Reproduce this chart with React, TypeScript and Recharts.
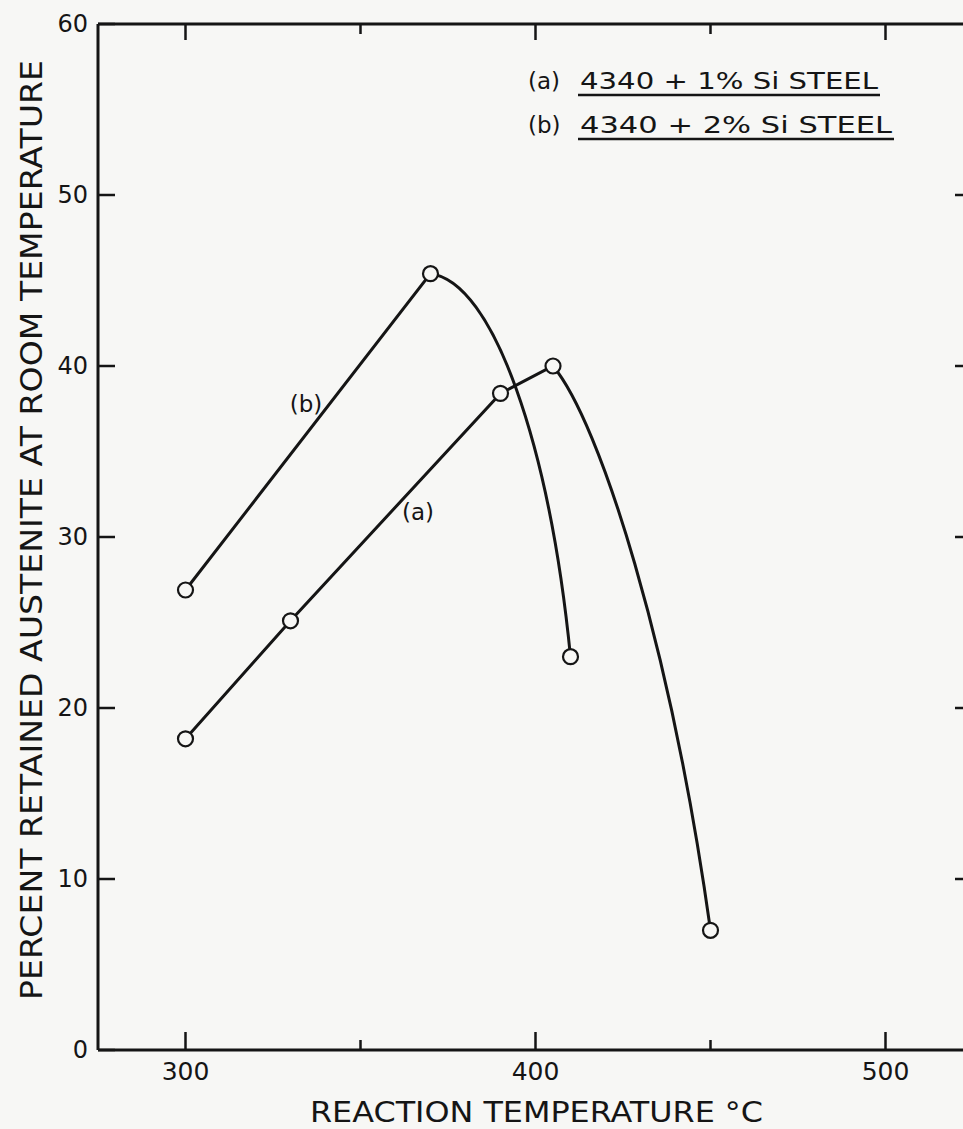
import React from 'react';
import { LineChart, Line, XAxis, YAxis } from 'recharts';

// ---- data ----
const tempA = [300, 330, 390, 405, 450];
const retainedA = [18.2, 25.1, 38.4, 40.0, 7.0];
const tempB = [300, 370, 410];
const retainedB = [26.9, 45.4, 23.0];

const xTicks = [300, 350, 400, 450, 500];
const xLabelTicks = [300, 400, 500];
const yTicks = [0, 10, 20, 30, 40, 50, 60];

const legendA = '4340 + 1% Si STEEL';
const legendB = '4340 + 2% Si STEEL';

const seriesA = tempA.map((t, i) => ({ temp: t, a: retainedA[i] }));
const seriesB = tempB.map((t, i) => ({ temp: t, b: retainedB[i] }));

const FONT = "'DejaVu Sans', 'Noto Sans', sans-serif";
const INK = '#151515';
const BG = '#f7f7f5';

// hand-drawn style curve: straight on rising segments, bent french-curve on falling ones
function makeCurve(c1x: number, c1y: number, c2x: number, c2y: number) {
  return (context: any) => {
    let pts: number[][] = [];
    return {
      areaStart() {},
      areaEnd() {},
      lineStart() {
        pts = [];
      },
      point(x: number, y: number) {
        pts.push([+x, +y]);
      },
      lineEnd() {
        if (!pts.length) return;
        context.moveTo(pts[0][0], pts[0][1]);
        for (let i = 1; i < pts.length; i++) {
          const [x0, y0] = pts[i - 1];
          const [x1, y1] = pts[i];
          if (y1 <= y0) {
            context.lineTo(x1, y1);
          } else {
            const dx = x1 - x0;
            const dy = y1 - y0;
            context.bezierCurveTo(x0 + c1x * dx, y0 + c1y * dy, x0 + c2x * dx, y0 + c2y * dy, x1, y1);
          }
        }
      },
    };
  };
}

const curveA = makeCurve(0.3, 0.1, 0.75, 0.5);
const curveB = makeCurve(0.45, 0.02, 0.85, 0.45);

function BottomTick(props: any) {
  const { x, y, payload } = props;
  const major = xLabelTicks.includes(payload.value);
  return (
    <g>
      <line x1={x} y1={y} x2={x} y2={y - (major ? 18 : 10)} stroke={INK} strokeWidth={2.5} />
      {major && (
        <text x={x} y={y + 21} textAnchor="middle" dominantBaseline="central" fontSize={25} fontFamily={FONT} fill={INK}>
          {payload.value}
        </text>
      )}
    </g>
  );
}

function TopTick(props: any) {
  const { x, y, payload } = props;
  const major = xLabelTicks.includes(payload.value);
  return <line x1={x} y1={y} x2={x} y2={y + (major ? 16 : 10)} stroke={INK} strokeWidth={2.5} />;
}

function LeftTick(props: any) {
  const { x, y, payload } = props;
  return (
    <g>
      <line x1={x} y1={y} x2={x + 17} y2={y} stroke={INK} strokeWidth={2.5} />
      <text x={x - 10} y={y} textAnchor="end" dominantBaseline="central" fontSize={24} fontFamily={FONT} fill={INK}>
        {payload.value}
      </text>
    </g>
  );
}

function RightTick(props: any) {
  const { x, y } = props;
  return <line x1={x} y1={y} x2={x - 18} y2={y} stroke={INK} strokeWidth={2.5} />;
}

const dotStyle = { r: 7.5, fill: BG, stroke: INK, strokeWidth: 2.2 };

export default function App() {
  return (
    <div
      style={{
        position: 'absolute',
        left: 0,
        top: 0,
        width: 963,
        height: 1129,
        overflow: 'hidden',
        background: BG,
      }}
    >
      <LineChart width={1000} height={1129} margin={{ top: 14, right: 17, bottom: 19, left: 38 }}>
        <XAxis
          xAxisId="bottom"
          type="number"
          dataKey="temp"
          domain={[275, 525]}
          ticks={xTicks}
          interval={0}
          orientation="bottom"
          height={60}
          tickSize={0}
          tickMargin={0}
          tickLine={false}
          axisLine={{ stroke: INK, strokeWidth: 3 }}
          tick={(p: any) => <BottomTick {...p} />}
          allowDataOverflow
        />
        <XAxis
          xAxisId="top"
          type="number"
          dataKey="temp"
          domain={[275, 525]}
          ticks={xTicks}
          interval={0}
          orientation="top"
          height={10}
          tickSize={0}
          tickMargin={0}
          tickLine={false}
          axisLine={{ stroke: INK, strokeWidth: 3 }}
          tick={(p: any) => <TopTick {...p} />}
          allowDataOverflow
        />
        <YAxis
          yAxisId="left"
          type="number"
          domain={[0, 60]}
          ticks={yTicks}
          interval={0}
          width={60}
          tickSize={0}
          tickMargin={0}
          tickLine={false}
          axisLine={{ stroke: INK, strokeWidth: 3 }}
          tick={(p: any) => <LeftTick {...p} />}
          allowDataOverflow
        />
        <YAxis
          yAxisId="right"
          orientation="right"
          type="number"
          domain={[0, 60]}
          ticks={yTicks.slice(1, -1)}
          interval={0}
          width={10}
          tickSize={0}
          tickMargin={0}
          tickLine={false}
          axisLine={{ stroke: INK, strokeWidth: 3 }}
          tick={(p: any) => <RightTick {...p} />}
          allowDataOverflow
        />
        <Line
          data={seriesA}
          xAxisId="bottom"
          yAxisId="left"
          dataKey="a"
          type={curveA as any}
          stroke={INK}
          strokeWidth={3}
          dot={dotStyle}
          activeDot={false}
          isAnimationActive={false}
        />
        <Line
          data={seriesB}
          xAxisId="bottom"
          yAxisId="left"
          dataKey="b"
          type={curveB as any}
          stroke={INK}
          strokeWidth={3}
          dot={dotStyle}
          activeDot={false}
          isAnimationActive={false}
        />
      </LineChart>
      <svg
        width={963}
        height={1129}
        style={{ position: 'absolute', left: 0, top: 0, pointerEvents: 'none' }}
        fontFamily={FONT}
        fill={INK}
      >
        <text
          transform="translate(31,530) rotate(-90)"
          textAnchor="middle"
          dominantBaseline="central"
          fontSize={30}
          textLength={940}
          lengthAdjust="spacingAndGlyphs"
        >
          PERCENT RETAINED AUSTENITE AT ROOM TEMPERATURE
        </text>
        <text x={310} y={1122} fontSize={29} textLength={453} lengthAdjust="spacingAndGlyphs">
          REACTION TEMPERATURE °C
        </text>
        <text x={528} y={89} fontSize={23}>
          (a)
        </text>
        <text x={580} y={89} fontSize={23} textLength={298} lengthAdjust="spacingAndGlyphs">
          {legendA}
        </text>
        <line x1={578} y1={95} x2={880} y2={95} stroke={INK} strokeWidth={2.5} />
        <text x={528} y={133} fontSize={23}>
          (b)
        </text>
        <text x={580} y={133} fontSize={23} textLength={312} lengthAdjust="spacingAndGlyphs">
          {legendB}
        </text>
        <line x1={578} y1={139} x2={894} y2={139} stroke={INK} strokeWidth={2.5} />
        <text x={306} y={404} fontSize={23} textAnchor="middle" dominantBaseline="central">
          (b)
        </text>
        <text x={418} y={512} fontSize={23} textAnchor="middle" dominantBaseline="central">
          (a)
        </text>
      </svg>
    </div>
  );
}
